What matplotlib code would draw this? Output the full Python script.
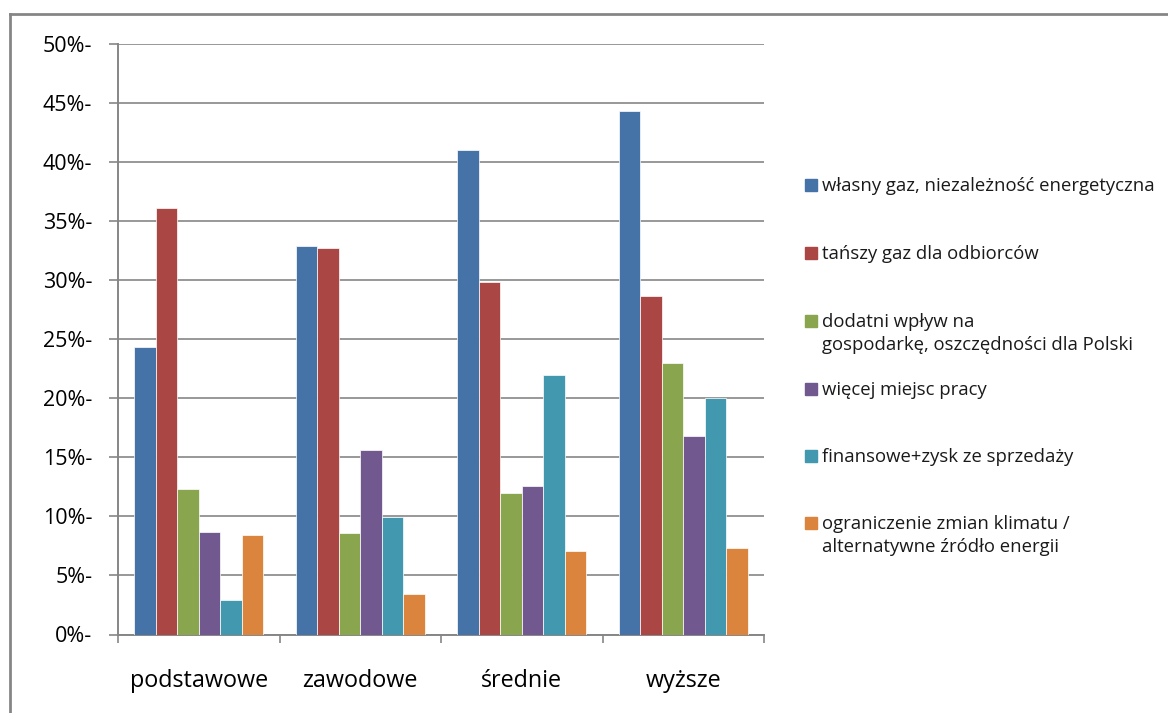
import matplotlib
matplotlib.use("Agg")
import matplotlib.pyplot as plt
from matplotlib.patches import Rectangle
from matplotlib.lines import Line2D
import numpy as np

plt.rcParams['font.family'] = ['Open Sans', 'DejaVu Sans']

# education levels and answers (share of respondents, %)
categories = ["podstawowe", "zawodowe", "średnie", "wyższe"]
series_labels = [
    "własny gaz, niezależność energetyczna",
    "tańszy gaz dla odbiorców",
    "dodatni wpływ na\ngospodarkę, oszczędności dla Polski",
    "więcej miejsc pracy",
    "finansowe+zysk ze sprzedaży",
    "ograniczenie zmian klimatu /\nalternatywne źródło energii",
]
wlasny_gaz = [24.3, 32.85, 40.95, 44.3]
tanszy_gaz = [36.1, 32.7, 29.85, 28.6]
gospodarka = [12.3, 8.6, 12.0, 22.95]
miejsca_pracy = [8.7, 15.6, 12.6, 16.8]
finansowe = [2.95, 9.95, 21.95, 20.0]
klimat = [8.4, 3.4, 7.05, 7.35]
values = [wlasny_gaz, tanszy_gaz, gospodarka, miejsca_pracy, finansowe, klimat]
colors = ["#4572A7", "#AA4643", "#89A54E", "#71588F", "#4198AF", "#DB843D"]
y_ticks = [0, 5, 10, 15, 20, 25, 30, 35, 40, 45, 50]

W, H = 1168, 713
fig = plt.figure(figsize=(W / 100, H / 100), dpi=100)
ax = fig.add_axes([118 / W, 1 - 634.5 / H, (764 - 118) / W, (634.5 - 43.5) / H])

grid_c = "#868686"
x = np.arange(len(categories))
bw = 0.1335
for i, (vals, c) in enumerate(zip(values, colors)):
    ax.bar(x + (i - 2.5) * bw, vals, width=bw, color=c,
           edgecolor="#ffffff", linewidth=0.5, zorder=3)

ax.set_xlim(-0.5, 3.5)
ax.set_ylim(0, 50)
ax.set_yticks(y_ticks)
ax.set_yticklabels([f"{t}%-" for t in y_ticks], fontsize=15.5)
ax.yaxis.grid(True, color=grid_c, linewidth=1.2, zorder=0)
ax.set_axisbelow(True)
ax.tick_params(axis="y", length=6.5, width=1.2, color=grid_c, pad=12)

ax.set_xticks(x)
ax.set_xticklabels(categories, fontsize=16.8)
ax.set_xticks(np.arange(-0.5, 4, 1), minor=True)
ax.tick_params(axis="x", which="major", length=0, pad=25)
ax.tick_params(axis="x", which="minor", length=5.5, width=1.2, color=grid_c)

for s in ["top", "right"]:
    ax.spines[s].set_visible(False)
for s in ["left", "bottom"]:
    ax.spines[s].set_color(grid_c)
    ax.spines[s].set_linewidth(1.4)

# legend drawn by hand so the square sits on the first line
leg_y = [185, 253, 321, 389, 456, 523]
for lab, c, yy in zip(series_labels, colors, leg_y):
    fig.add_artist(Rectangle((805 / W, 1 - (yy + 6) / H), 12 / W, 12 / H,
                             transform=fig.transFigure, color=c))
    fig.text(822 / W, 1 - (yy - 8) / H, lab, fontsize=13.3, va="top",
             ha="left", color="#1a1a1a", linespacing=1.35,
             transform=fig.transFigure)

# outer frame (top and left edges)
fig.add_artist(Line2D([10 / W, 1], [1 - 14 / H, 1 - 14 / H], color=grid_c,
                      linewidth=2, transform=fig.transFigure))
fig.add_artist(Line2D([10 / W, 10 / W], [0, 1 - 14 / H], color=grid_c,
                      linewidth=2, transform=fig.transFigure))

fig.savefig("out.png", dpi=100)
